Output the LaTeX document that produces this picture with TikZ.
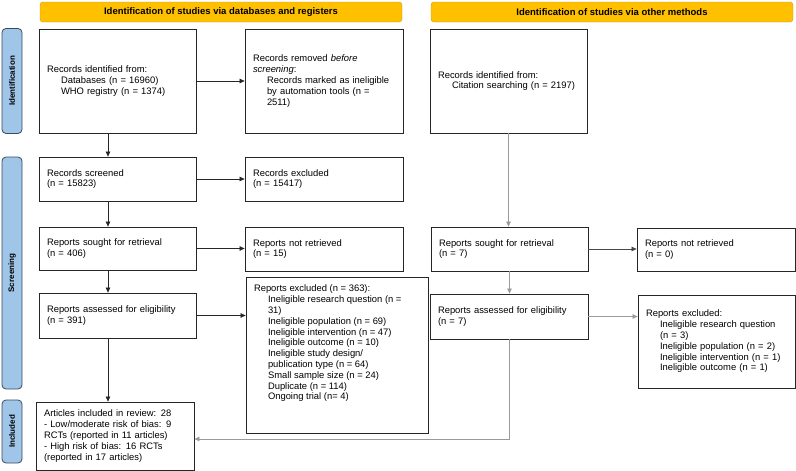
\documentclass[tikz,border=0pt]{standalone}
\usepackage{fontspec}
\setmainfont{Liberation Sans}
\usepackage{tikz}
\usetikzlibrary{arrows.meta,positioning}

\definecolor{hdrfill}{HTML}{FFC000}
\definecolor{hdrline}{HTML}{C99A1E}
\definecolor{sidefill}{HTML}{9FC5E8}
\definecolor{sideline}{HTML}{3B4B5E}
\definecolor{boxline}{HTML}{262626}
\definecolor{lightarr}{HTML}{9A9A9A}

\newcommand{\ind}{\hspace*{14pt}}

\begin{document}
\begin{tikzpicture}[
  x=1pt, y=-1pt,
  box/.style={draw=boxline, line width=0.8pt, rectangle, align=left, inner xsep=8pt, inner ysep=3pt,
    font=\fontsize{9.4}{10.8}\selectfont},
  hdr/.style={draw=hdrline, fill=hdrfill, rounded corners=3pt, minimum height=20pt, minimum width=362pt,
    font=\fontsize{9.5}{11}\selectfont\bfseries},
  side/.style={draw=sideline, fill=sidefill, rounded corners=4pt, line width=0.8pt, minimum height=20pt,
    rotate=90, font=\fontsize{8}{10}\selectfont\bfseries},
  arr/.style={-{Triangle[length=5pt,width=4.5pt]}, line width=0.6pt, draw=boxline},
  garr/.style={arr, draw=lightarr}
]
\useasboundingbox (0,0) rectangle (796,471);

\node[hdr] (hdrdb) at (221,12) {Identification of studies via databases and registers};
\node[hdr] (hdrot) at (612,12) {Identification of studies via other methods};

\node[side, minimum width=105pt] (sideid) at (12,81) {Identification};
\node[side, minimum width=232pt] (sidescr) at (12,273) {Screening};
\node[side, minimum width=63pt] (sideinc) at (12,431.5) {Included};

\node[box, text width=141pt, minimum height=104pt] (ident) at (117.5,81)
  {Records identified from:\\ \ind Databases (n = 16960)\\ \ind WHO registry (n = 1374)};
\node[box, text width=142pt, minimum height=104pt] (removed) at (324,81)
  {Records removed \textit{before}\\ \textit{screening}:\\ \ind Records marked as ineligible\\
   \ind by automation tools (n =\\ \ind 2511)};
\node[box, text width=141pt, minimum height=104pt] (oident) at (508.5,81)
  {Records identified from:\\ \ind Citation searching (n = 2197)};

\node[box, text width=141pt, minimum height=44pt] (screened) at (117.5,179) {Records screened\\ (n = 15823)};
\node[box, text width=142pt, minimum height=44pt] (rexcl) at (324,179) {Records excluded\\ (n = 15417)};

\node[box, text width=141pt, minimum height=43pt] (sought) at (117.5,248.5) {Reports sought for retrieval\\ (n = 406)};
\node[box, text width=142pt, minimum height=44pt] (notret) at (324,249) {Reports not retrieved\\ (n = 15)};
\node[box, text width=141pt, minimum height=44pt] (osought) at (509.5,249) {Reports sought for retrieval\\ (n = 7)};
\node[box, text width=142pt, minimum height=43pt] (onotret) at (716,249.5) {Reports not retrieved\\ (n = 0)};

\node[box, text width=141pt, minimum height=45pt] (assessed) at (117.5,315.5) {Reports assessed for eligibility\\ (n = 391)};
\node[box, inner ysep=3pt] (repexcl) at (337,355)
  {\parbox[c][150pt][t]{166pt}{\vspace*{5pt}Reports excluded (n = 363):\\
   \ind Ineligible research question (n =\\ \ind 31)\\ \ind Ineligible population (n = 69)\\
   \ind Ineligible intervention (n = 47)\\ \ind Ineligible outcome (n = 10)\\
   \ind Ineligible study design/\\ \ind publication type (n = 64)\\ \ind Small sample size (n = 24)\\
   \ind Duplicate (n = 114)\\ \ind Ongoing trial (n= 4)}};
\node[box, text width=142pt, minimum height=45pt] (oassessed) at (509,316.5) {Reports assessed for eligibility\\ (n = 7)};
\node[box, text width=141pt, minimum height=93pt] (oexcl) at (716.5,341.5)
  {Reports excluded:\\ \ind Ineligible research question\\ \ind (n = 3)\\ \ind Ineligible population (n = 2)\\
   \ind Ineligible intervention (n = 1)\\ \ind Ineligible outcome (n = 1)};

\node[box, text width=142pt, minimum height=68pt] (included) at (115,436)
  {Articles included in review: 28\\ - Low/moderate risk of bias: 9\\ RCTs (reported in 11 articles)\\
   - High risk of bias: 16 RCTs\\ (reported in 17 articles)};

\coordinate (lane) at (108,0);
\draw[arr] (ident) -- (removed);
\draw[arr] (ident.south -| lane) -- (screened.north -| lane);
\draw[arr] (screened) -- (rexcl);
\draw[arr] (screened.south -| lane) -- (sought.north -| lane);
\draw[arr] (sought.east) -- (sought.east -| notret.west);
\draw[arr] (sought.south -| lane) -- (assessed.north -| lane);
\draw[arr] (assessed.east) -- (assessed.east -| repexcl.west);
\draw[arr] (assessed.south -| lane) -- (included.north -| lane);

\draw[garr] (oident.south) -- (oident.south |- osought.north);
\draw[arr, draw=boxline!85] (osought.east) -- (osought.east -| onotret.west);
\draw[garr] (osought.south) -- (osought.south |- oassessed.north);
\draw[garr] (oassessed.east) -- (oassessed.east -| oexcl.west);
\draw[garr] (oassessed.south) |- ([yshift=-3pt]included.east);
\end{tikzpicture}
\end{document}
